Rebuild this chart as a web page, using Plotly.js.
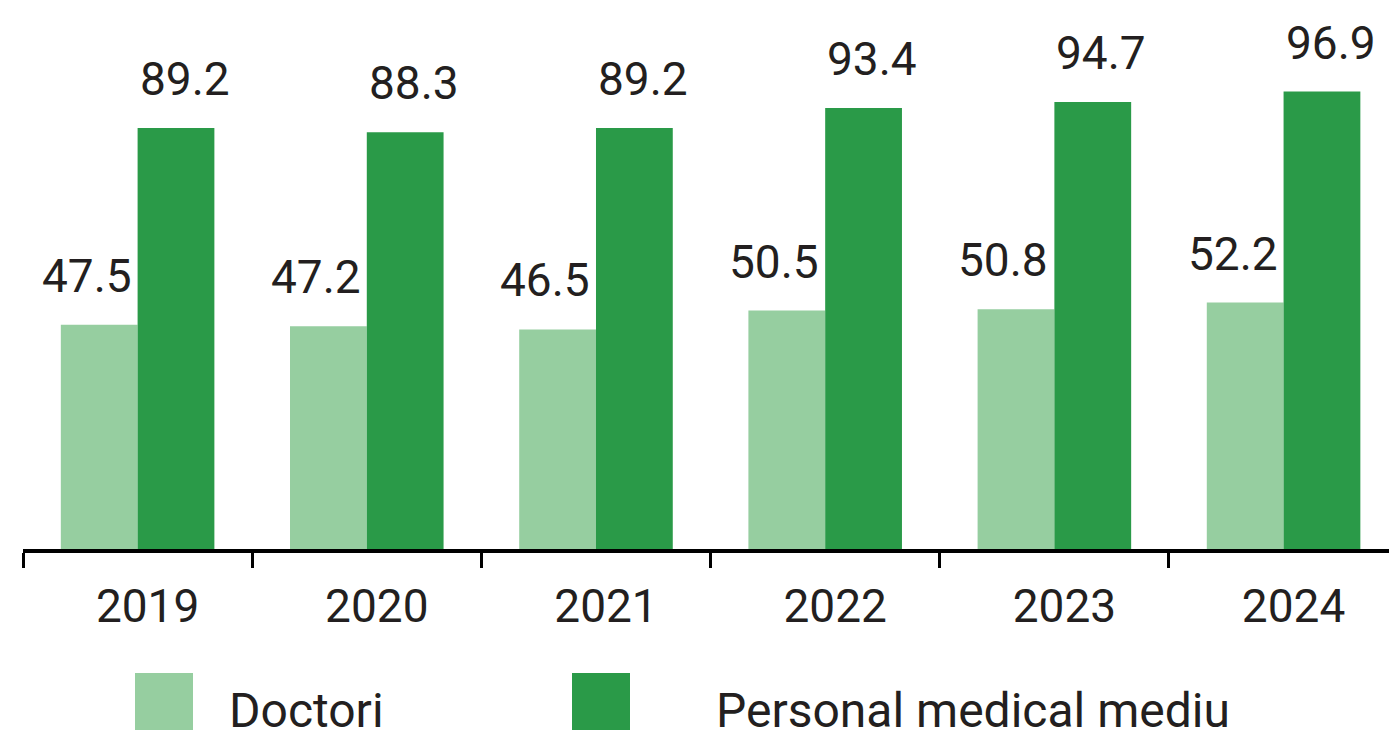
<!DOCTYPE html>
<html>
<head>
<meta charset="utf-8">
<script src="https://cdn.plot.ly/plotly-3.0.1.min.js"></script>
<style>html,body{margin:0;padding:0;background:#fff;}#chart{width:1389px;height:730px;}</style>
</head>
<body>
<div id="chart"></div>
<script>
const years = ['2019', '2020', '2021', '2022', '2023', '2024'];
const doctori = [47.5, 47.2, 46.5, 50.5, 50.8, 52.2];
const personal = [89.2, 88.3, 89.2, 93.4, 94.7, 96.9];
const seriesNames = ['Doctori', 'Personal medical mediu'];

const lightGreen = '#96cea0';
const darkGreen = '#2a9a48';
const textColor = '#231f20';
const FONT = 'Roboto, "Liberation Sans", sans-serif';
const W = 1389, H = 730, ML = 23, MB = 181;
const plotW = W - ML, plotH = H - MB;
const px = x => (x - ML) / plotW;
const py = y => (plotH - y) / plotH;

const traces = [
  { type: 'bar', x: years, y: doctori, name: seriesNames[0],
    marker: { color: lightGreen }, hoverinfo: 'x+y' },
  { type: 'bar', x: years, y: personal, name: seriesNames[1],
    marker: { color: darkGreen }, hoverinfo: 'x+y' }
];

const annotations = [];
years.forEach((yr, i) => {
  // category axis: use the category index (numeric-looking names would be read as indices)
  annotations.push({ x: i, y: doctori[i], xref: 'x', yref: 'y', text: doctori[i].toFixed(1),
    showarrow: false, yanchor: 'bottom', xanchor: 'center', xshift: -51, yshift: 20,
    font: { family: FONT, size: 46, color: textColor } });
  annotations.push({ x: i, y: personal[i], xref: 'x', yref: 'y', text: personal[i].toFixed(1),
    showarrow: false, yanchor: 'bottom', xanchor: 'center', xshift: 47, yshift: 20,
    font: { family: FONT, size: 46, color: textColor } });
});

// legend
const legendItems = [
  { name: seriesNames[0], color: lightGreen, sq: 135, tx: 229 },
  { name: seriesNames[1], color: darkGreen, sq: 572, tx: 716 }
];
const shapes = [];
legendItems.forEach(it => {
  shapes.push({ type: 'rect', xref: 'paper', yref: 'paper',
    x0: px(it.sq), x1: px(it.sq + 58), y0: py(731), y1: py(673),
    fillcolor: it.color, line: { width: 0 } });
  annotations.push({ xref: 'paper', yref: 'paper', x: px(it.tx - 2), y: py(710),
    text: it.name, showarrow: false, xanchor: 'left', yanchor: 'middle',
    font: { family: FONT, size: 48, color: textColor } });
});

const layout = {
  width: W, height: H,
  margin: { l: ML, r: 0, t: 0, b: MB, pad: 0 },
  paper_bgcolor: '#ffffff', plot_bgcolor: '#ffffff',
  barmode: 'group', bargap: 0.33, bargroupgap: 0,
  showlegend: false,
  xaxis: {
    type: 'category', range: [-0.5, 5.46], automargin: false,
    showline: true, linecolor: '#000000', linewidth: 4,
    ticks: 'outside', tickson: 'boundaries', ticklen: 15, tickwidth: 3, tickcolor: '#000000',
    showgrid: false, zeroline: false,
    tickfont: { family: FONT, size: 46, color: textColor },
    ticklabelshift: 10, ticklabelstandoff: 14, fixedrange: true
  },
  yaxis: {
    range: [0, 116.3], visible: false, showgrid: false, zeroline: false, fixedrange: true
  },
  shapes: shapes,
  annotations: annotations
};

Plotly.newPlot('chart', traces, layout, { displayModeBar: false, staticPlot: true });
</script>
</body>
</html>
